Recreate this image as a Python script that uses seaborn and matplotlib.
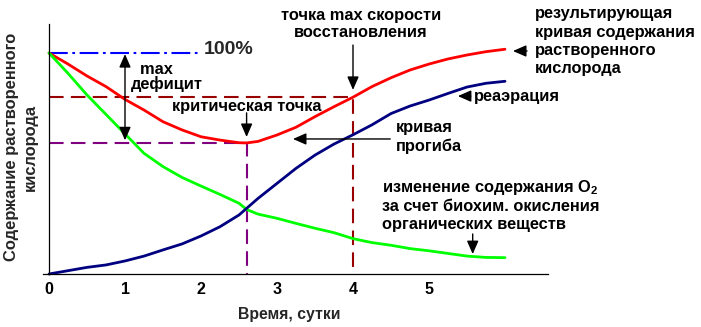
import numpy as np
import pandas as pd
import matplotlib
matplotlib.use("Agg")
import matplotlib.pyplot as plt
import seaborn as sns

# time, days
t = [0, 0.25, 0.5, 0.75, 1, 1.25, 1.5, 1.75, 2, 2.25, 2.5, 2.6, 2.75, 3,
     3.25, 3.5, 3.75, 4, 4.25, 4.5, 4.75, 5, 5.25, 5.5, 5.75, 6.0]
# resulting dissolved-oxygen curve (sag curve)
oxygen_total = [100, 95, 89.6, 84.8, 79, 74.2, 68.9, 65.2, 62.1, 60.6, 59.4,
                59.3, 60, 62.9, 66.4, 71.2, 75.7, 80, 84.8, 88.8, 92.3, 95,
                97.3, 99.1, 100.6, 101.7]
# oxygen change due to biochemical oxidation of organics
oxidation = [100, 90.8, 81, 72.2, 63.4, 54.6, 48.6, 43.7, 39.8, 36, 32, 29.2,
             27.1, 25.2, 22.9, 20.7, 18.7, 16, 14.2, 13, 11.5, 10.5, 9.3, 8.1,
             7.5, 7.4]
# reaeration
reaeration = [0, 1.5, 3.0, 4.1, 5.9, 8.1, 10.9, 13.6, 17.2, 21.4, 26.7, 29.7,
              34.2, 41, 47.8, 53.8, 58.8, 63, 67.5, 72.6, 76, 78.7, 81.7, 84.6,
              86.3, 87.2]
saturation = 100
restore_day = 4
x_ticks = [0, 1, 2, 3, 4, 5]

sns.set_style("white")
plt.rcParams["font.family"] = ["Liberation Sans", "DejaVu Sans"]
plt.rcParams["font.weight"] = "bold"
plt.rcParams["mathtext.fontset"] = "custom"
plt.rcParams["mathtext.rm"] = "Liberation Sans:bold"
plt.rcParams["mathtext.default"] = "rm"

df = pd.DataFrame({
    "t": t * 3,
    "value": oxygen_total + oxidation + reaeration,
    "curve": ["total"] * len(t) + ["oxidation"] * len(t) + ["reaeration"] * len(t),
})
palette = {"total": "#ff0000", "oxidation": "#00ff00", "reaeration": "#000080"}

fig = plt.figure(figsize=(7.01, 3.27), dpi=100)
ax = fig.add_axes([40 / 701, 42 / 327, 520 / 701, 265 / 327])

# critical point and max-restoration point taken from the sag curve
i_crit = int(np.argmin(oxygen_total))
t_crit, level_crit = t[i_crit], oxygen_total[i_crit]
level_restore = oxygen_total[t.index(restore_day)]

ax.plot([0, 2.0], [saturation, saturation], color="#0000ff", lw=1.5,
        linestyle=(0, (9, 2.2, 1.3, 2.2)))
ax.plot([0, restore_day, restore_day], [level_restore, level_restore, 0],
        color="#990000", lw=1.5, linestyle=(0, (7, 3.5)))
ax.plot([0, t_crit, t_crit], [level_crit, level_crit, 0],
        color="#800080", lw=1.5, linestyle=(0, (7, 3.5)))

sns.lineplot(data=df, x="t", y="value", hue="curve", palette=palette,
             estimator=None, sort=True, linewidth=2, legend=False, ax=ax)

ax.set_xlim(-9 / 76, 511 / 76)
ax.set_ylim(-11 / 2.21, 254 / 2.21)
for side in ("top", "right"):
    ax.spines[side].set_visible(False)
ax.spines["left"].set_position(("data", 0))
ax.spines["bottom"].set_position(("data", 0))
ax.spines["left"].set_bounds(0, 113)
ax.spines["bottom"].set_bounds(-0.08, 6.57)
for side in ("left", "bottom"):
    ax.spines[side].set_color("black")
    ax.spines[side].set_linewidth(0.9)
ax.set_xticks(x_ticks)
ax.set_xticklabels([str(v) for v in x_ticks])
ax.set_yticks([])
ax.tick_params(axis="x", direction="out", length=4, width=0.8, pad=2,
               labelsize=11.5, colors="black")
for lab in ax.get_xticklabels():
    lab.set_fontweight("bold")
ax.set_xlabel("")
ax.set_ylabel("")

fs = 11.8
txt = dict(fontsize=fs, fontweight="bold", color="black")
arrow = dict(arrowstyle="-|>,head_length=0.8,head_width=0.35", color="black",
             lw=1, shrinkA=0, shrinkB=0, mutation_scale=10)


def pointer(tip, tail, style=None):
    props = dict(arrow)
    if style:
        props["arrowstyle"] = style
    ax.annotate("", xy=tip, xytext=tail, arrowprops=props, annotation_clip=False)


ax.text(2.03, 101.6, "100%", fontsize=14, fontweight="bold", va="center",
        ha="left", clip_on=False)
ax.text(1.079, 89.2, "  max\nдефицит", ha="left", va="center",
        multialignment="left", linespacing=0.95, **txt)
pointer((1.0, 60.5), (1.0, 99.5),
        "<|-|>,head_length=0.8,head_width=0.35")

ax.text(2.6, 76.0, "критическая точка", ha="center", va="center", **txt)
pointer((2.6, 62.0), (2.6, 72.9))

ax.text(4.105, 113.1, "точка max скорости\nвосстановления", ha="center",
        va="center", linespacing=1.22, clip_on=False, **txt)
pointer((4.0, 83.3), (4.0, 103.6))

ax.text(6.395, 105.4, "результирующая\nкривая содержания\nрастворенного\nкислорода",
        ha="left", va="center", linespacing=1.26, clip_on=False, **txt)
pointer((6.105, 100.9), (6.29, 100.9))

ax.text(5.59, 80.5, "реаэрация", ha="left", va="center", **txt)
pointer((5.38, 80.5), (5.55, 80.5))

ax.text(4.566, 61.8, "кривая\nпрогиба", ha="left", va="center",
        linespacing=1.28, **txt)
pointer((3.21, 61.1), (4.49, 61.1))

ax.text(4.38, 31.4,
        "изменение содержания O$_2$\nза счет биохим. окисления\nорганических веществ",
        ha="left", va="center", multialignment="left", linespacing=1.2, **txt)
pointer((5.575, 9.0), (5.575, 18.1))

fig.text(21 / 701, 1 - 147 / 327, "Содержание растворенного\nкислорода",
         rotation=90, ha="center", va="center", multialignment="center",
         linespacing=1.3, fontsize=11.9, fontweight="bold")
fig.text(289 / 701, 1 - 314 / 327, "Время, сутки", ha="center", va="center",
         fontsize=11.3, fontweight="bold")

fig.savefig("out.png", dpi=100)
